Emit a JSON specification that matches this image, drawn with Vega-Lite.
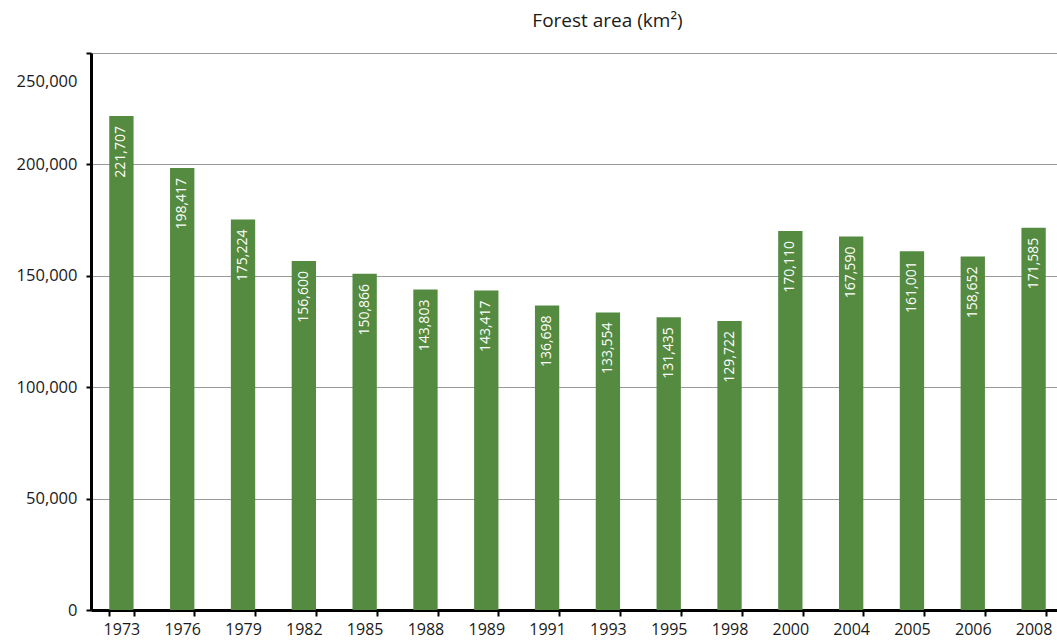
{
  "$schema": "https://vega.github.io/schema/vega-lite/v6.json",
  "width": 973,
  "height": 557,
  "padding": {"left": 16, "top": 12, "right": 0, "bottom": 0},
  "background": "white",
  "config": {
    "font": "Open Sans",
    "view": {"stroke": null}
  },
  "title": {
    "text": "Forest area (km²)",
    "fontSize": 19,
    "fontWeight": "normal",
    "color": "#1a1a1a",
    "offset": 21,
    "dx": 30
  },
  "data": {
    "values": [
      {"year": "1973", "area": 221707},
      {"year": "1976", "area": 198417},
      {"year": "1979", "area": 175224},
      {"year": "1982", "area": 156600},
      {"year": "1985", "area": 150866},
      {"year": "1988", "area": 143803},
      {"year": "1989", "area": 143417},
      {"year": "1991", "area": 136698},
      {"year": "1993", "area": 133554},
      {"year": "1995", "area": 131435},
      {"year": "1998", "area": 129722},
      {"year": "2000", "area": 170110},
      {"year": "2004", "area": 167590},
      {"year": "2005", "area": 161001},
      {"year": "2006", "area": 158652},
      {"year": "2008", "area": 171585}
    ]
  },
  "encoding": {
    "x": {
      "field": "year",
      "type": "ordinal",
      "sort": null,
      "scale": {"paddingInner": 0.6, "paddingOuter": 0.3},
      "axis": {
        "title": null,
        "labelAngle": 0,
        "labelFontSize": 16,
        "labelColor": "#1a1a1a",
        "labelPadding": 5,
        "tickBand": "extent",
        "domainColor": "black",
        "domainWidth": 3,
        "tickColor": "black",
        "tickWidth": 2,
        "tickSize": 6,
        "grid": false
      }
    },
    "y": {
      "field": "area",
      "type": "quantitative",
      "scale": {"domain": [0, 250000], "nice": false},
      "axis": {
        "title": null,
        "values": [0, 50000, 100000, 150000, 200000, 250000],
        "format": ",.0f",
        "labelFontSize": 16.5,
        "labelColor": "#1a1a1a",
        "labelPadding": 9,
        "labelOffset": {"condition": {"test": "datum.value == 250000", "value": 28}, "value": 0},
        "domainColor": "black",
        "domainWidth": 3,
        "tickColor": "black",
        "tickWidth": 2,
        "tickSize": 5,
        "grid": true,
        "gridColor": "#999999",
        "gridWidth": 1
      }
    }
  },
  "layer": [
    {"mark": {"type": "bar", "color": "#548b40"}},
    {
      "mark": {
        "type": "text",
        "angle": 270,
        "align": "right",
        "baseline": "middle",
        "dx": -10,
        "fontSize": 14,
        "color": "white"
      },
      "encoding": {"text": {"field": "area", "type": "quantitative", "format": ","}}
    }
  ]
}
